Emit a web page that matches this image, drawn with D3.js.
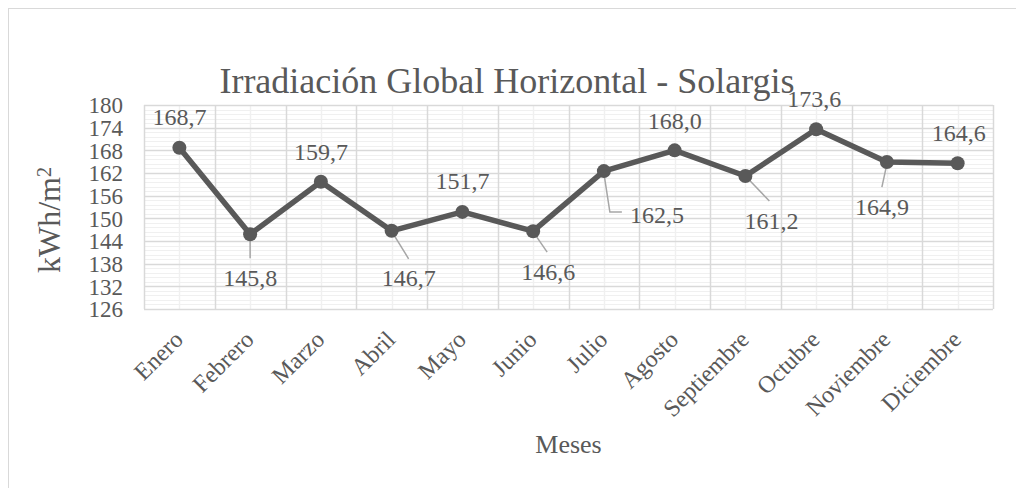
<!DOCTYPE html>
<html>
<head>
<meta charset="utf-8">
<script src="https://cdn.jsdelivr.net/npm/d3@7"></script>
<style>
  html, body { margin: 0; padding: 0; background: #fff; }
  svg { display: block; }
  text { font-family: "Liberation Serif", "Times New Roman", serif; fill: #595959; }
</style>
</head>
<body>
<svg id="chart" width="1016" height="488"></svg>
<script>
// ---- data ----
const months = ["Enero","Febrero","Marzo","Abril","Mayo","Junio","Julio","Agosto","Septiembre","Octubre","Noviembre","Diciembre"];
const irradiation = [168.7,145.8,159.7,146.7,151.7,146.6,162.5,168.0,161.2,173.6,164.9,164.6];
const yTicks = [126,132,138,144,150,156,162,168,174,180];
const chartTitle = "Irradiación Global Horizontal - Solargis";
const xTitle = "Meses";

// label placement (dx, dy in px relative to the point; leader: polyline offsets)
const labelPlacement = [
  {dx: 0,  dy: -31, leader: null},
  {dx: 0,  dy: 43,  leader: [[0,2],[0,24]]},
  {dx: 0,  dy: -30, leader: null},
  {dx: 17, dy: 47,  leader: [[1,2],[17,28]]},
  {dx: 0,  dy: -31, leader: null},
  {dx: 15, dy: 40,  leader: [[1,2],[14,21]]},
  {dx: 53, dy: 43,  leader: [[0,2],[6,41],[18,41]]},
  {dx: 0,  dy: -30, leader: null},
  {dx: 26, dy: 45,  leader: [[1,1],[24,25]]},
  {dx: -2, dy: -31, leader: null},
  {dx: -5, dy: 45,  leader: [[0,2],[-5,25]]},
  {dx: 1,  dy: -31, leader: null}
];

const svg = d3.select("#chart");
const plot = {left: 144, right: 993, top: 105, bottom: 309};
const FONT = '"Liberation Serif", "Times New Roman", serif';

// outer frame
svg.append("rect").attr("x", 8.5).attr("y", 8.5).attr("width", 1040).attr("height", 520)
  .attr("fill", "#fff").attr("stroke", "#d9d9d9").attr("stroke-width", 1);

const x = d3.scaleBand().domain(months).range([plot.left, plot.right]).padding(0);
const y = d3.scaleLinear().domain([126, 180]).range([plot.bottom, plot.top]);

const g = svg.append("g");

// minor horizontal grid (every 1.2)
const minorY = d3.range(126, 180.001, 1.2).filter(v => Math.abs(((v - 126) / 6) - Math.round((v - 126) / 6)) > 1e-6);
g.selectAll(".minorY").data(minorY).enter().append("line")
  .attr("x1", plot.left).attr("x2", plot.right)
  .attr("y1", d => Math.round(y(d)) + 0.5).attr("y2", d => Math.round(y(d)) + 0.5)
  .attr("stroke", "#f0f0f0").attr("stroke-width", 1);

// minor vertical grid at band centres
g.selectAll(".minorX").data(months).enter().append("line")
  .attr("x1", d => Math.round(x(d) + x.bandwidth() / 2) + 0.5)
  .attr("x2", d => Math.round(x(d) + x.bandwidth() / 2) + 0.5)
  .attr("y1", plot.top).attr("y2", plot.bottom)
  .attr("stroke", "#f0f0f0").attr("stroke-width", 1.5);

// major horizontal grid
g.selectAll(".majorY").data(yTicks).enter().append("line")
  .attr("x1", plot.left).attr("x2", plot.right)
  .attr("y1", d => Math.round(y(d)) + 0.5).attr("y2", d => Math.round(y(d)) + 0.5)
  .attr("stroke", "#d9d9d9").attr("stroke-width", 1.5);

// major vertical grid at band boundaries
const bounds = months.map(m => x(m)).concat([plot.right]);
g.selectAll(".majorX").data(bounds).enter().append("line")
  .attr("x1", d => Math.round(d) + 0.5).attr("x2", d => Math.round(d) + 0.5)
  .attr("y1", plot.top).attr("y2", plot.bottom)
  .attr("stroke", "#d9d9d9").attr("stroke-width", 1.5);

// y axis labels
const yAxis = d3.axisLeft(y).tickValues(yTicks).tickSize(0).tickPadding(0);
const ya = svg.append("g").attr("transform", `translate(${plot.left - 21},0)`).call(yAxis);
ya.attr("font-family", null);
ya.select(".domain").remove();
ya.selectAll("text").style("font-family", FONT).style("font-size", "23px").attr("fill", "#595959").attr("dy", "0.34em");

// x axis labels
const xAxis = d3.axisBottom(x).tickSize(0).tickPadding(0);
const xa = svg.append("g").attr("transform", `translate(0,${plot.bottom})`).call(xAxis);
xa.attr("font-family", null);
xa.select(".domain").remove();
xa.selectAll("text")
  .style("font-family", FONT).style("font-size", "24px").attr("fill", "#595959")
  .attr("text-anchor", "end").attr("y", 0).attr("dy", 0)
  .attr("transform", "translate(5,32) rotate(-45)");

// titles
svg.append("text").attr("x", 507).attr("y", 93).attr("text-anchor", "middle")
  .style("font-size", "36px").text(chartTitle);
svg.append("text").attr("x", (plot.left + plot.right) / 2).attr("y", 453).attr("text-anchor", "middle")
  .style("font-size", "26px").text(xTitle);
const yt = svg.append("text").attr("transform", `translate(60,220) rotate(-90)`)
  .attr("text-anchor", "middle").style("font-size", "32px");
yt.append("tspan").text("kWh/m");
yt.append("tspan").attr("dy", "-0.45em").style("font-size", "20px").text("2");

// line
const line = d3.line().x((d, i) => x(months[i]) + x.bandwidth() / 2).y(d => y(d));
svg.append("path").datum(irradiation).attr("d", line)
  .attr("fill", "none").attr("stroke", "#595959").attr("stroke-width", 5.5).attr("stroke-linejoin", "round");

// leader lines
irradiation.forEach((v, i) => {
  const p = labelPlacement[i];
  if (!p.leader) return;
  const cx = x(months[i]) + x.bandwidth() / 2, cy = y(v);
  svg.append("polyline")
    .attr("points", p.leader.map(q => `${cx + q[0]},${cy + q[1]}`).join(" "))
    .attr("fill", "none").attr("stroke", "#a6a6a6").attr("stroke-width", 1.5);
});

// markers
svg.selectAll(".pt").data(irradiation).enter().append("circle")
  .attr("cx", (d, i) => x(months[i]) + x.bandwidth() / 2).attr("cy", d => y(d))
  .attr("r", 7).attr("fill", "#595959");

// data labels
const fmt = d => d.toFixed(1).replace(".", ",");
svg.selectAll(".lbl").data(irradiation).enter().append("text")
  .attr("x", (d, i) => x(months[i]) + x.bandwidth() / 2 + labelPlacement[i].dx)
  .attr("y", (d, i) => y(d) + labelPlacement[i].dy)
  .attr("dy", "0.35em").attr("text-anchor", "middle")
  .style("font-size", "24px").text(fmt);
</script>
</body>
</html>
